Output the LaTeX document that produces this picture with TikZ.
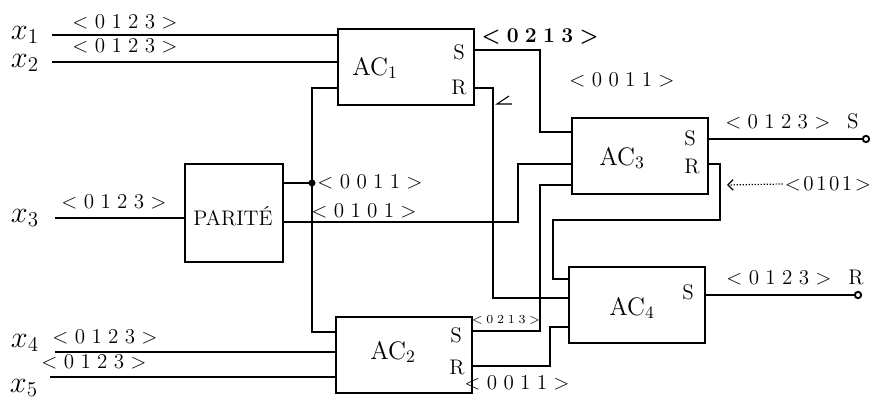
\documentclass[tikz,border=0pt]{standalone}
\usepackage{tikz}
\usetikzlibrary{arrows.meta}
\newcommand{\seqsep}{.3em}
\newcommand{\seq}[4]{$<$\hspace{\seqsep}#1\hspace{\seqsep}#2\hspace{\seqsep}#3\hspace{\seqsep}#4\hspace{\seqsep}$>$}

\begin{document}
\begin{tikzpicture}[x=0.02cm, y=-0.02cm,
  wire/.style={line width=1.1pt},
  block/.style={draw, line width=1.1pt, minimum width=2.72cm, minimum height=1.52cm, inner sep=0pt},
  code/.style={font=\large, inner sep=1pt},
  tight/.style={font=\large\renewcommand{\seqsep}{.12em}},
  pin/.style={font=\large, inner sep=1pt},
  var/.style={font=\LARGE, inner sep=0pt}]
\useasboundingbox (0,0) rectangle (875,408);

% Blocs
\node[block] (ac1) at (406,67) {};
\node[block] (ac2) at (404,355) {};
\node[block] (ac3) at (640,156) {};
\node[block] (ac4) at (637,305) {};
\node[draw, line width=1.1pt, minimum width=1.96cm, minimum height=1.96cm, inner sep=0pt] (par) at (234,213) {};

% Noms des blocs
\node[font=\Large] (ac1t) at (375,68) {AC$_1$};
\node[font=\Large] (ac2t) at (393,352) {AC$_2$};
\node[font=\Large] (ac3t) at (622,158) {AC$_3$};
\node[font=\Large] (ac4t) at (632,308) {AC$_4$};
\node[font=\large] (part) at (233,216) {PARITÉ};

% Sorties S et R
\node[pin] (ac1s) at (459,52) {S};
\node[pin] (ac1r) at (459,88) {R};
\node[pin] (ac2s) at (456,335) {S};
\node[pin] (ac2r) at (457,368) {R};
\node[pin] (ac3s) at (690,138) {S};
\node[pin] (ac3r) at (692,167) {R};
\node[pin] (ac4s) at (688,292) {S};

% Entrees
\node[var] (x1) at (25,35) {$x_1$};
\node[var] (x2) at (25,63) {$x_2$};
\node[var] (x3) at (25,218) {$x_3$};
\node[var] (x4) at (25,343) {$x_4$};
\node[var] (x5) at (24,388) {$x_5$};
\coordinate (x1w) at (52,35);
\coordinate (x2w) at (52,62);
\coordinate (x3w) at (55,218);
\coordinate (x4w) at (55,352);
\coordinate (x5w) at (50,377);
\draw[wire] (x1w) -- (x1w -| ac1.west);
\draw[wire] (x2w) -- (x2w -| ac1.west);
\draw[wire] (x3w) -- (x3w -| par.west);
\draw[wire] (x4w) -- (x4w -| ac2.west);
\draw[wire] (x5w) -- (x5w -| ac2.west);

% Points de connexion
\coordinate (s1) at (474,50);
\coordinate (r1) at (474,88);
\coordinate (s2) at (472,331);
\coordinate (r2) at (472,366);
\coordinate (s3) at (708,139);
\coordinate (r3) at (708,164);
\coordinate (s4) at (705,295);
\coordinate (b1) at (540,132);
\coordinate (b2) at (493,298);
\coordinate (fb) at (312,332);
\coordinate (jn) at (312,183);
\coordinate (pq) at (283,222);
\coordinate (b3) at (518,164);
\coordinate (b4) at (540,185);
\coordinate (b5) at (550,327);
\coordinate (b6) at (720,220);
\coordinate (b7) at (553,279);
\coordinate (outS) at (866,139);
\coordinate (outR) at (858,295);

% Liaisons
\draw[wire] (s1) -| (b1) -- (b1 -| ac3.west);
\draw[wire] (r1) -| (b2) -- (b2 -| ac4.west);
\draw[wire] (ac1.west |- r1) -| (fb) -- (fb -| ac2.west);
\draw[wire] (par.east |- jn) -- (jn);
\fill (jn) circle (2pt);
\draw[wire] (pq) -| (b3) -- (b3 -| ac3.west);
\draw[wire] (s2) -| (b4) -- (b4 -| ac3.west);
\draw[wire] (r2) -| (b5) -- (b5 -| ac4.west);
\draw[wire] (r3) -| (b6) -| (b7) -- (b7 -| ac4.west);
\draw[wire] (s3) -- (outS);
\draw[wire] (s4) -- (outR);
\draw[wire, fill=white] (outS) circle (1.8pt);
\draw[wire, fill=white] (outR) circle (1.8pt);
\draw[line width=.6pt] (509,96) -- (497,104) -- (512,104);

% Sequences
\node[code] (c1) at (125,22) {\seq0123};
\node[code] (c2) at (125,46) {\seq0123};
\node[code] (c3) at (114,202) {\seq0123};
\node[code] (c4) at (105,337) {\seq0123};
\node[code] (c5) at (94,362) {\seq0123};
\node[code, font=\large\bfseries\boldmath] (c6) at (540,36) {\seq0213};
\node[code] (c7) at (622,80) {\seq0011};
\node[code] (c8) at (370,182) {\seq0011};
\node[code] (c9) at (364,211) {\seq0101};
\node[code, font=\scriptsize] (c10) at (506,320) {\seq0213};
\node[code] (c11) at (517,383) {\seq0011};
\node[code, tight, anchor=east] (c12) at (873,184) {\seq0101};
\node[code] (cs) at (792,121) {\seq0123\hspace{.8em}S};
\node[code] (cr) at (795,278) {\seq0123\hspace{.8em}R};
\coordinate (arr) at (727,185);
\draw[densely dotted, line width=.7pt, -{Straight Barb[length=3pt]}] (c12.west) -- (arr);
\end{tikzpicture}
\end{document}
